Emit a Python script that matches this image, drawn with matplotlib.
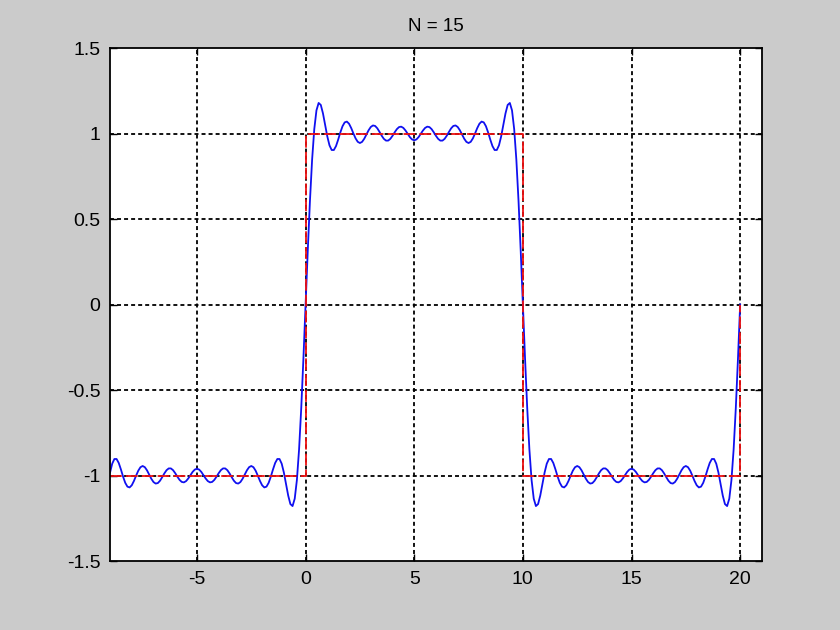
import numpy as np
import matplotlib
matplotlib.use("Agg")
import matplotlib.pyplot as plt

# square wave: breakpoints of the red dashed line
square_x = [-9, 0, 0, 10, 10, 20, 20]
square_y = [-1, -1, 1, 1, -1, -1, 0]

# Fourier partial sum parameters shown in the title
n_max = 15          # highest odd harmonic
period = 20.0
x_start, x_stop, x_step = -9.0, 20.0, 0.1

x_ticks = [-5, 0, 5, 10, 15, 20]
y_ticks = [-1.5, -1, -0.5, 0, 0.5, 1, 1.5]
y_labels = ["-1.5", "-1", "-0.5", "0", "0.5", "1", "1.5"]

x = np.arange(x_start, x_stop + x_step / 2, x_step)
f = np.zeros_like(x)
for k in range(1, n_max + 1, 2):
    f += 4 / np.pi * np.sin(2 * np.pi * k * x / period) / k

plt.rcParams['font.family'] = ['Liberation Sans', 'DejaVu Sans']

fig = plt.figure(figsize=(8.4, 6.3), dpi=100, facecolor='#cbcbcb')
ax = fig.add_axes([0.131, 0.1095, 0.776, 0.8143])
ax.set_facecolor('white')

ax.plot(x, f, color='#1010f0', lw=1.3, zorder=3)
ax.plot(square_x, square_y, color='#ee1111', lw=1.3,
        linestyle=(0, (6.5, 2.3)), zorder=3)

ax.set_xlim(-9, 21)
ax.set_ylim(-1.5, 1.5)
ax.set_xticks(x_ticks)
ax.set_xticklabels([str(t) for t in x_ticks])
ax.set_yticks(y_ticks)
ax.set_yticklabels(y_labels)

ax.grid(True, color='black', linestyle=(0, (2.2, 1.7)), lw=1.3)
# the edge grid lines sit on the box; hide them so the frame stays solid
for gl in ax.get_ygridlines():
    if abs(abs(gl.get_ydata()[0]) - 1.5) < 1e-9:
        gl.set_visible(False)
ax.tick_params(direction='in', length=5, width=1, top=True, right=True,
               labelsize=14, pad=7, colors='black')
for s in ax.spines.values():
    s.set_linewidth(1.3)
    s.set_color('black')
    s.set_zorder(4)

ax.set_title("N = 15", fontsize=13.5, pad=12)

fig.savefig("out.png", dpi=100, facecolor=fig.get_facecolor())
